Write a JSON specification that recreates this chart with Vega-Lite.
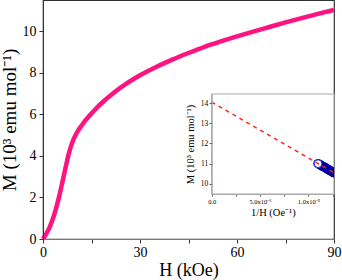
{
  "$schema": "https://vega.github.io/schema/vega-lite/v6.json",
  "width": 291,
  "height": 239,
  "autosize": "none",
  "padding": {"left": 43, "top": 0, "right": 8, "bottom": 41},
  "background": "white",
  "config": {
    "view": {"stroke": "#333333", "strokeWidth": 1.2},
    "font": "Liberation Serif",
    "axis": {"labelFont": "Liberation Serif", "titleFont": "Liberation Serif", "labelColor": "black", "titleColor": "black", "titleFontWeight": "normal", "grid": false, "labelFlush": false, "labelOverlap": false}
  },
  "datasets": {
    "mh": [
      {"H": 0, "M": 0}, {"H": 1, "M": 0.25}, {"H": 2, "M": 0.55}, {"H": 3, "M": 0.95},
      {"H": 4, "M": 1.45}, {"H": 5, "M": 2.05}, {"H": 6, "M": 2.74}, {"H": 7, "M": 3.45},
      {"H": 8, "M": 4.12}, {"H": 9, "M": 4.62}, {"H": 10, "M": 4.98}, {"H": 11, "M": 5.25},
      {"H": 12, "M": 5.47}, {"H": 13, "M": 5.68}, {"H": 14, "M": 5.87}, {"H": 16, "M": 6.21},
      {"H": 18, "M": 6.52}, {"H": 22, "M": 7.05}, {"H": 26, "M": 7.5}, {"H": 30, "M": 7.88},
      {"H": 35, "M": 8.28}, {"H": 40, "M": 8.63}, {"H": 45, "M": 8.95}, {"H": 50, "M": 9.25},
      {"H": 55, "M": 9.51}, {"H": 60, "M": 9.75}, {"H": 65, "M": 9.98}, {"H": 70, "M": 10.2},
      {"H": 75, "M": 10.42}, {"H": 80, "M": 10.63}, {"H": 85, "M": 10.83}, {"H": 90, "M": 11.02}
    ],
    "inv": [
      {"invH": 1.10e-5, "M": 11.0}, {"invH": 1.115e-5, "M": 10.96}, {"invH": 1.13e-5, "M": 10.92},
      {"invH": 1.145e-5, "M": 10.88}, {"invH": 1.16e-5, "M": 10.84}, {"invH": 1.175e-5, "M": 10.8},
      {"invH": 1.19e-5, "M": 10.76}, {"invH": 1.205e-5, "M": 10.71}, {"invH": 1.22e-5, "M": 10.67},
      {"invH": 1.235e-5, "M": 10.63}, {"invH": 1.25e-5, "M": 10.59}, {"invH": 1.265e-5, "M": 10.55}
    ],
    "end": [{"invH": 1.10e-5, "M": 11.0}],
    "fit": [{"invH": 0, "M": 14.05}, {"invH": 1.265e-5, "M": 10.55}]
  },
  "layer": [
    {
      "data": {"name": "mh"},
      "mark": {"type": "line", "color": "#fe1480", "strokeWidth": 4.5, "interpolate": "monotone"},
      "encoding": {
        "x": {"field": "H", "type": "quantitative", "scale": {"domain": [0, 90], "nice": false},
          "axis": {"values": [0, 15, 30, 45, 60, 75, 90], "labelExpr": "datum.value % 30 == 0 ? datum.label : ''", "tickSize": 4, "labelFontSize": 14, "titleFontSize": 18, "title": "H (kOe)", "domainColor": "#777777", "tickColor": "#333333", "labelPadding": 2, "titlePadding": 2, "zindex": 1}},
        "y": {"field": "M", "type": "quantitative", "scale": {"domain": [0, 11.5], "nice": false},
          "axis": {"values": [0, 2, 4, 6, 8, 10], "tickSize": 4, "labelFontSize": 14, "titleFontSize": 19, "title": "M (10³ emu mol⁻¹)", "domainColor": "#333333", "tickColor": "#333333", "labelPadding": 3, "titlePadding": 3, "zindex": 1}}
      }
    },
    {
      "layer": [
        {
          "data": {"values": [{}]},
          "mark": {"type": "rect", "fill": "white", "stroke": "#aaaaaa", "strokeWidth": 1.2},
          "encoding": {
            "x": {"datum": 0, "type": "quantitative", "scale": {"domain": [0, 1.265e-5], "range": [168.7, 291], "nice": false, "zero": false},
              "axis": {"orient": "bottom", "offset": -45, "values": [0, 2.5e-6, 5e-6, 7.5e-6, 1e-5, 1.25e-5], "labelExpr": "round(datum.value*1e7) == 0 ? '0.0' : round(datum.value*1e7) == 50 ? '5.0x10⁻⁶' : round(datum.value*1e7) == 100 ? '1.0x10⁻⁵' : ''", "labelFontSize": 6.5, "tickSize": 2, "title": "1/H (Oe⁻¹)", "titleFontSize": 10.5, "labelPadding": 2, "titlePadding": 3, "domainColor": "#aaaaaa", "tickColor": "#555555", "zindex": 2}},
            "x2": {"datum": 1.265e-5},
            "y": {"datum": 9.5, "type": "quantitative", "scale": {"domain": [9.5, 14.45], "range": [194, 94], "nice": false, "zero": false},
              "axis": {"orient": "left", "offset": -168.7, "values": [10, 11, 12, 13, 14], "labelFontSize": 7.5, "tickSize": 2.5, "title": "M (10³ emu mol⁻¹)", "titleFontSize": 10.5, "labelPadding": 1.5, "titlePadding": 5, "domainColor": "#aaaaaa", "tickColor": "#555555", "zindex": 2}},
            "y2": {"datum": 14.45}
          }
        },
        {
          "data": {"name": "inv"},
          "mark": {"type": "point", "filled": true, "size": 90, "color": "#0000a0", "opacity": 1, "clip": true},
          "encoding": {
            "x": {"field": "invH", "type": "quantitative"},
            "y": {"field": "M", "type": "quantitative"}
          }
        },
        {
          "data": {"name": "end"},
          "mark": {"type": "point", "filled": true, "fill": "white", "stroke": "#2a2ad8", "strokeWidth": 1, "size": 60, "opacity": 1},
          "encoding": {
            "x": {"field": "invH", "type": "quantitative"},
            "y": {"field": "M", "type": "quantitative"}
          }
        },
        {
          "data": {"name": "fit"},
          "mark": {"type": "line", "color": "#ff2020", "strokeDash": [4, 4], "strokeWidth": 1.5, "clip": true},
          "encoding": {
            "x": {"field": "invH", "type": "quantitative"},
            "y": {"field": "M", "type": "quantitative"}
          }
        }
      ]
    }
  ],
  "resolve": {"scale": {"x": "independent", "y": "independent"}}
}
